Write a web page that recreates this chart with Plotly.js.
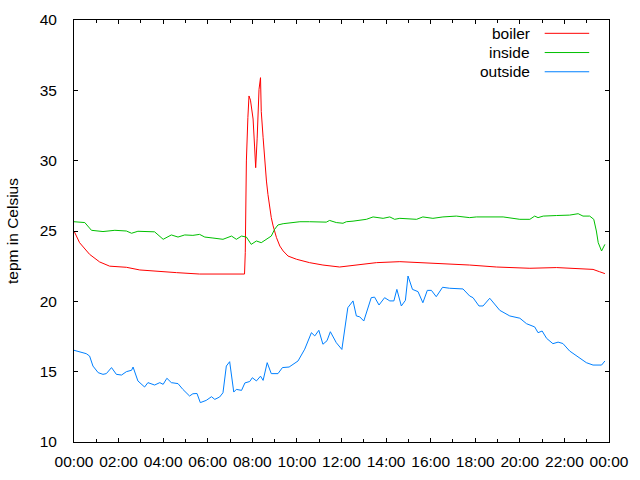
<!DOCTYPE html>
<html>
<head>
<meta charset="utf-8">
<script src="https://cdn.plot.ly/plotly-3.0.1.min.js"></script>
<style>html,body{margin:0;padding:0;background:#fff;}#chart{width:640px;height:480px;}</style>
</head>
<body>
<div id="chart"></div>
<script>
const day = "2000-01-01";

const boilerTimes = ["00:00","00:15","00:42","01:09","01:36","02:21","02:57","03:51","04:36","05:38","07:39","07:41","07:44","07:48","07:51","07:55","07:57","08:02","08:06","08:09","08:13","08:15","08:18","08:22","08:24","08:29","08:33","08:38","08:42","08:47","08:51","08:56","09:05","09:14","09:23","09:36","09:59","10:34","11:10","11:55","12:40","13:34","14:37","15:39","16:42","17:45","18:57","20:27","21:39","22:41","23:17","23:35","23:49"];
const boilerValues = [25.0,24.17,23.34,22.8,22.5,22.42,22.23,22.1,22.04,21.94,21.94,23.46,29.98,33.06,34.6,34.3,33.9,32.96,31.04,29.5,31.6,33.5,35.07,35.9,33.5,31.63,29.98,28.55,27.6,26.66,25.95,25.36,24.53,23.93,23.58,23.22,22.99,22.75,22.58,22.44,22.58,22.75,22.82,22.75,22.68,22.58,22.44,22.35,22.4,22.32,22.27,22.1,21.97];

const insideTimes = ["00:00","00:29","00:47","01:18","01:50","02:21","02:35","02:52","03:37","04:00","04:22","04:40","04:58","05:20","05:38","05:52","06:14","06:41","07:04","07:17","07:31","07:44","07:57","08:11","08:24","08:38","08:51","09:00","09:09","09:23","09:50","10:08","10:34","11:19","11:28","11:46","12:04","12:13","12:31","13:07","13:25","13:52","14:10","14:23","14:37","15:22","15:39","16:06","16:33","17:09","17:45","18:03","19:15","20:00","20:27","20:40","20:49","21:03","21:39","22:14","22:37","22:50","23:08","23:19","23:26","23:31","23:40","23:49"];
const insideValues = [25.66,25.6,25.05,24.96,25.05,25.0,24.84,24.98,24.94,24.41,24.72,24.57,24.72,24.69,24.76,24.57,24.5,24.41,24.64,24.41,24.64,24.57,24.05,24.29,24.17,24.4,24.64,25.12,25.43,25.52,25.6,25.66,25.66,25.63,25.75,25.6,25.55,25.66,25.7,25.83,26.0,25.9,26.0,25.83,25.9,25.83,26.0,25.9,26.0,26.06,25.95,26.0,26.0,25.83,25.83,26.06,25.95,26.06,26.1,26.13,26.23,26.06,26.06,25.83,25.0,24.17,23.58,24.05];

const outsideTimes = ["00:00","00:15","00:33","00:42","00:51","01:05","01:18","01:27","01:41","01:54","02:08","02:21","02:35","02:39","02:52","03:10","03:19","03:37","03:51","04:00","04:10","04:22","04:40","04:53","05:11","05:20","05:31","05:40","05:56","06:10","06:19","06:32","06:41","06:50","06:59","07:10","07:17","07:31","07:40","07:53","08:00","08:11","08:22","08:29","08:40","08:51","09:09","09:21","09:39","10:03","10:21","10:39","10:48","10:59","11:10","11:21","11:30","11:46","12:01","12:17","12:31","12:40","12:49","13:00","13:20","13:29","13:41","13:56","14:10","14:21","14:29","14:41","14:52","14:59","15:11","15:26","15:39","15:51","16:02","16:15","16:32","16:51","17:27","17:45","17:54","18:10","18:21","18:39","18:52","19:06","19:33","20:00","20:18","20:40","20:49","21:00","21:12","21:29","21:43","21:56","22:14","22:41","22:59","23:17","23:40","23:49"];
const outsideValues = [16.52,16.43,16.28,16.11,15.4,14.93,14.81,14.86,15.29,14.81,14.76,15.0,15.1,15.33,14.34,13.91,14.22,14.05,14.22,14.1,14.53,14.22,14.15,13.74,13.27,13.43,13.45,12.8,12.96,13.22,13.03,13.2,13.5,15.4,15.71,13.55,13.74,13.67,14.2,14.3,14.57,14.34,14.68,14.38,15.64,14.86,14.86,15.29,15.33,15.76,16.6,17.77,17.54,17.94,16.95,17.2,17.84,17.06,16.58,19.55,20.03,18.96,18.9,18.6,20.26,20.3,19.74,20.26,20.03,20.03,20.85,19.67,20.07,21.8,20.85,20.69,19.9,20.78,20.78,20.33,21.0,20.93,20.88,20.38,20.26,19.67,19.67,20.22,19.79,19.36,18.96,18.8,18.41,18.18,17.77,17.89,17.37,16.99,17.1,17.0,16.47,16.0,15.64,15.47,15.47,15.76];

const seriesNames = ["boiler","inside","outside"];
const seriesColors = ["#ff0000","#00c000","#0080ff"];

const toX = ts => ts.map(t => day + " " + t);
const allTimes = [boilerTimes, insideTimes, outsideTimes];
const allValues = [boilerValues, insideValues, outsideValues];

const traces = seriesNames.map((name, i) => ({
  type: "scatter", mode: "lines", name: name,
  x: toX(allTimes[i]), y: allValues[i],
  line: {color: seriesColors[i], width: 1},
  showlegend: false, hoverinfo: "x+y+name"
}));

const fontFam = "Liberation Sans, Arial, sans-serif";
const fs = 15.5;
const annotations = [];
const shapes = [];
// gnuplot-style key: right-aligned text, sample line to the right
seriesNames.forEach((name, i) => {
  const yp = 1 - (13.3 + i * 19.2) / 421.5;
  annotations.push({xref: "paper", yref: "paper", x: (532 - 74.3) / 535, y: yp,
    xanchor: "right", yanchor: "middle", text: name, showarrow: false,
    font: {family: fontFam, size: fs, color: "#000"}});
  shapes.push({type: "line", xref: "paper", yref: "paper",
    x0: (545 - 74.3) / 535, x1: (589.5 - 74.3) / 535, y0: yp, y1: yp,
    line: {color: seriesColors[i], width: 1}});
});

const layout = {
  width: 640, height: 480,
  margin: {l: 74, r: 31, t: 20, b: 38, pad: 0},
  paper_bgcolor: "#fff", plot_bgcolor: "#fff",
  font: {family: fontFam, size: fs, color: "#000"},
  showlegend: false,
  xaxis: {
    type: "date", range: [day + " 00:00", "2000-01-02 00:00"],
    tick0: day + " 00:00", dtick: 7200000, tickformat: "%H:%M",
    ticks: "inside", ticklen: 4, tickcolor: "#000", tickwidth: 1,
    showline: true, linecolor: "#000", linewidth: 1, mirror: "ticks",
    showgrid: false, zeroline: false, ticklabelstandoff: 5,
    minor: {dtick: 3600000, ticks: "inside", ticklen: 3, tickcolor: "#000", showgrid: false},
    tickfont: {family: fontFam, size: fs, color: "#000"}
  },
  yaxis: {
    range: [10, 40], dtick: 5, tick0: 10,
    ticks: "inside", ticklen: 4, tickcolor: "#000", tickwidth: 1,
    showline: true, linecolor: "#000", linewidth: 1, mirror: "ticks",
    showgrid: false, zeroline: false, ticklabelstandoff: 13,
    tickfont: {family: fontFam, size: fs, color: "#000"},
    title: {text: "tepm in Celsius", standoff: 17, font: {family: fontFam, size: fs, color: "#000"}}
  },
  annotations: annotations,
  shapes: shapes
};

Plotly.newPlot("chart", traces, layout, {displayModeBar: false, staticPlot: true});
</script>
</body>
</html>
